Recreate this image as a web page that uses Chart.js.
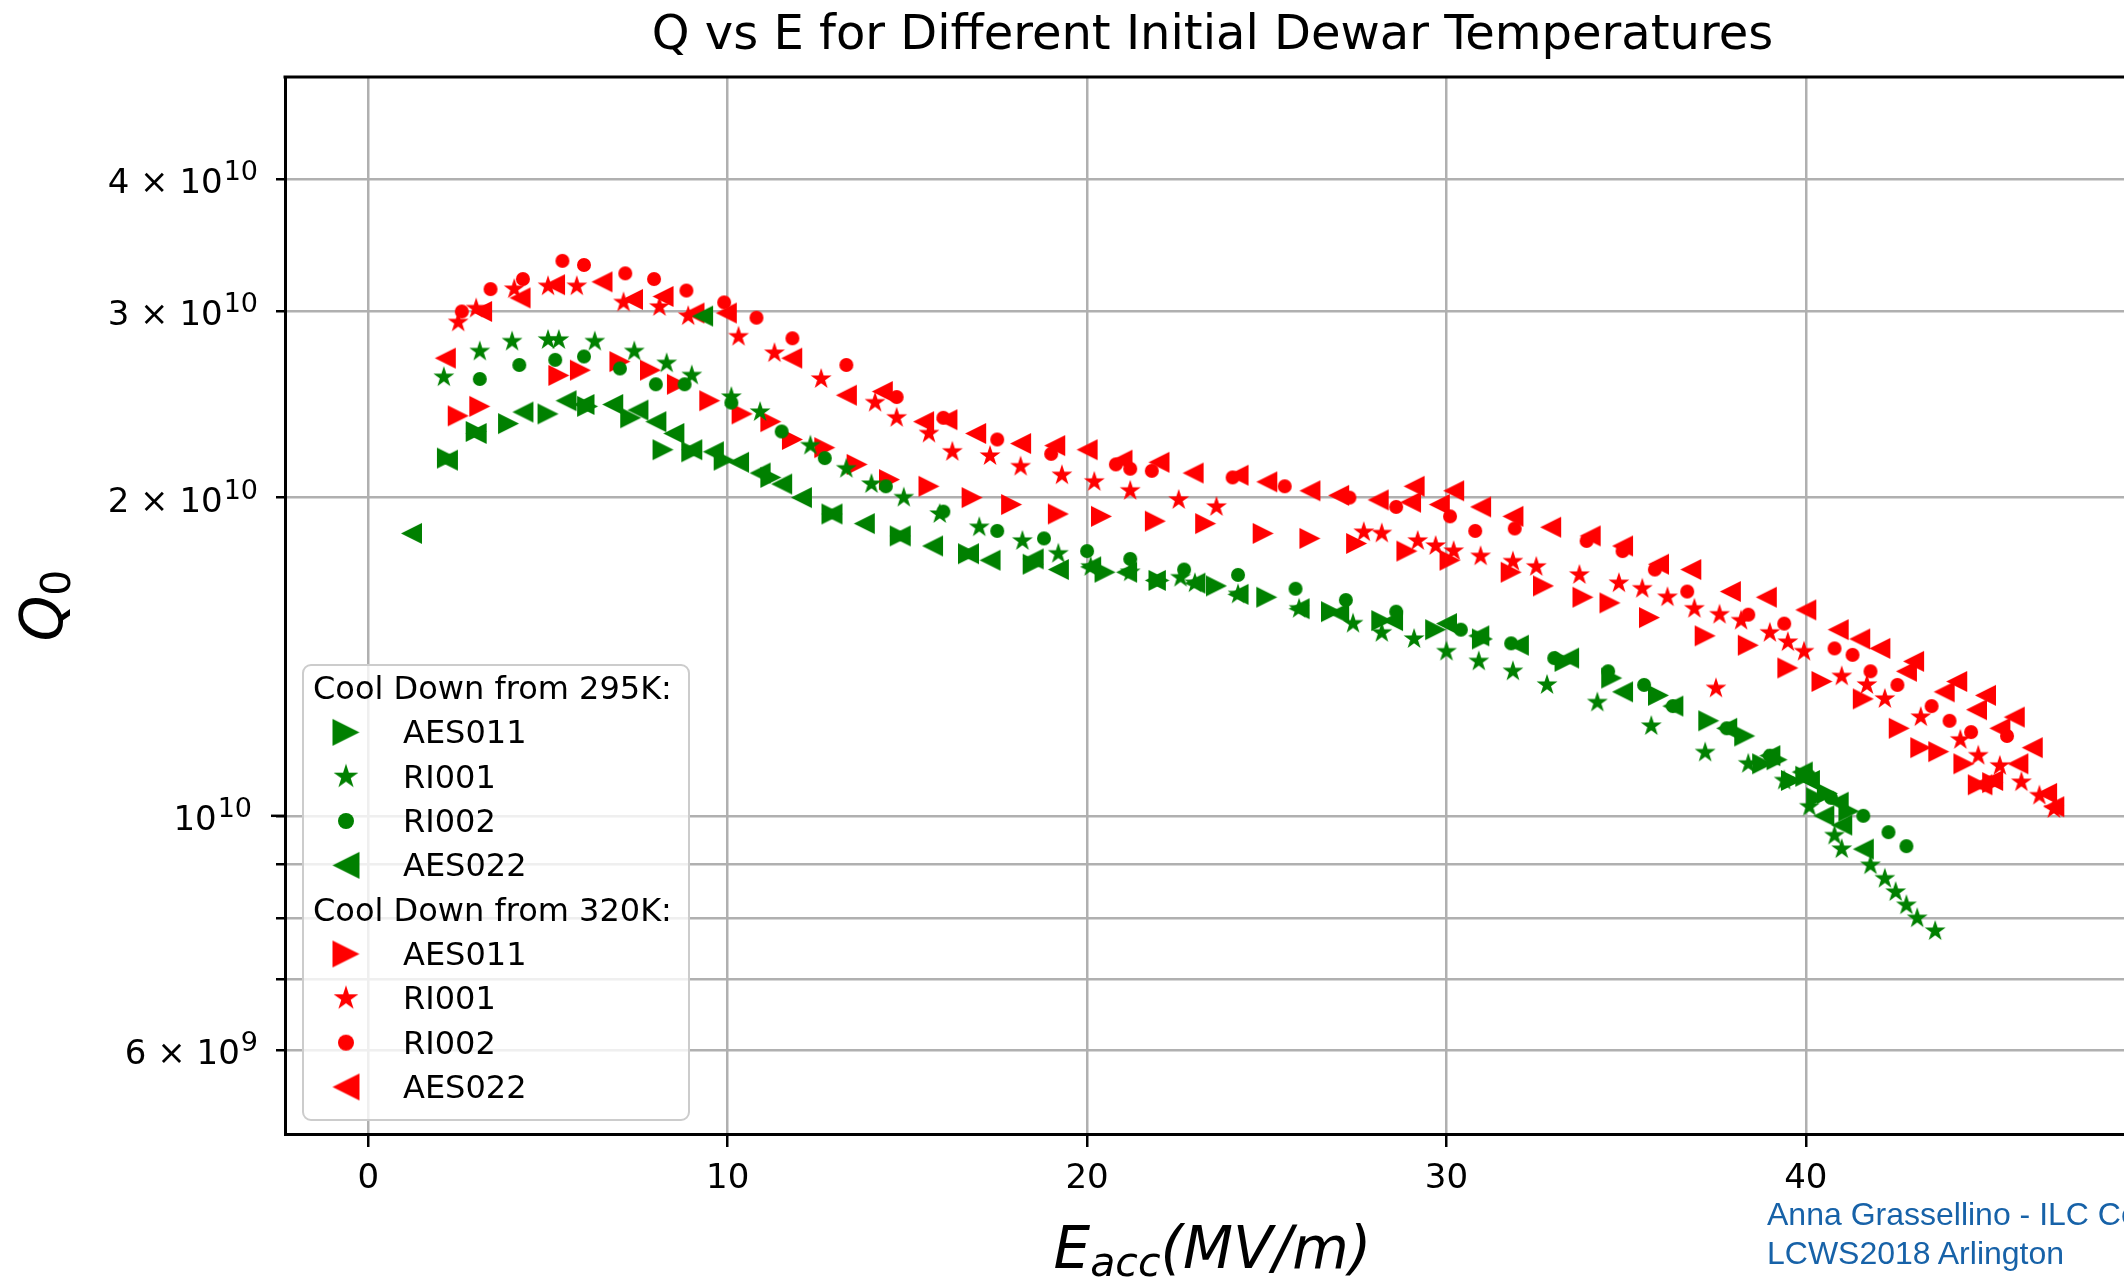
<!DOCTYPE html>
<html>
<head>
<meta charset="utf-8">
<title>Q vs E for Different Initial Dewar Temperatures</title>
<script src="https://cdn.jsdelivr.net/npm/chart.js@4.4.1/dist/chart.umd.min.js"></script>
<style>
  html, body { margin: 0; padding: 0; background: #fff; overflow: hidden; }
  #wrap { position: relative; width: 2124px; height: 1280px; overflow: hidden; }
  #myChart { position: absolute; left: 0; top: 0; }
  .credit { position: absolute; left: 1767px; font-family: 'Liberation Sans', Arial, sans-serif; font-size: 32px; line-height: 39px; color: #1762a8; white-space: nowrap; }
</style>
</head>
<body>
<div id="wrap">
  <canvas id="myChart" width="2160" height="1280"></canvas>
  <div class="credit" style="top:1195px">Anna Grassellino - ILC Co</div>
  <div class="credit" style="top:1234px">LCWS2018 Arlington</div>
</div>
<script>
// Data. E in MV/m, Q0 in units of 1e10.

// cool down from 295K (green)
const aes011WarmE = [2.2, 3.0, 3.9, 5.0, 6.1, 7.3, 8.2, 9.0, 9.9, 11.2, 12.9, 14.8, 16.7, 18.5, 20.5, 22.0, 23.6, 25.0, 26.8, 28.2, 29.7, 31.0, 33.3, 34.6, 35.9, 37.3, 38.3, 38.8, 39.2, 39.6, 40.0, 40.3, 40.6, 41.2]
const aes011WarmQ = [2.18, 2.31, 2.35, 2.40, 2.44, 2.38, 2.22, 2.21, 2.17, 2.09, 1.93, 1.84, 1.77, 1.73, 1.70, 1.67, 1.65, 1.61, 1.56, 1.53, 1.50, 1.47, 1.40, 1.35, 1.30, 1.23, 1.19, 1.12, 1.13, 1.08, 1.09, 1.04, 1.05, 1.01]

const ri001WarmE = [2.1, 3.1, 4.0, 5.0, 5.3, 6.3, 7.4, 8.3, 9.0, 10.1, 10.9, 12.3, 13.3, 14.0, 14.9, 15.9, 17.0, 18.2, 19.2, 20.1, 21.2, 22.6, 23.0, 24.2, 25.9, 27.4, 28.2, 29.1, 30.0, 30.9, 31.85, 32.8, 34.2, 35.7, 37.2, 38.4, 39.4, 40.1, 40.8, 41.0, 41.8, 42.2, 42.5, 42.8, 43.1, 43.6]
const ri001WarmQ = [2.60, 2.75, 2.81, 2.82, 2.82, 2.81, 2.75, 2.68, 2.61, 2.49, 2.41, 2.24, 2.13, 2.06, 2.00, 1.93, 1.875, 1.82, 1.77, 1.72, 1.70, 1.68, 1.66, 1.62, 1.57, 1.52, 1.49, 1.47, 1.43, 1.40, 1.37, 1.33, 1.28, 1.216, 1.148, 1.12, 1.08, 1.02, 0.958, 0.93, 0.898, 0.872, 0.847, 0.823, 0.80, 0.778]

const ri002WarmE = [3.1, 4.2, 5.2, 6.0, 7.0, 8.0, 8.8, 10.1, 11.5, 12.7, 14.4, 16.0, 17.5, 18.8, 20.0, 21.2, 22.7, 24.2, 25.8, 27.2, 28.6, 30.4, 31.8, 33.0, 34.5, 35.5, 36.3, 37.8, 39.0, 40.1, 40.7, 41.6, 42.3, 42.8]
const ri002WarmQ = [2.59, 2.67, 2.70, 2.72, 2.65, 2.56, 2.56, 2.46, 2.31, 2.18, 2.05, 1.94, 1.86, 1.83, 1.78, 1.75, 1.71, 1.69, 1.64, 1.60, 1.56, 1.50, 1.456, 1.41, 1.37, 1.33, 1.27, 1.21, 1.14, 1.09, 1.04, 1.00, 0.965, 0.936]

const aes022WarmE = [1.2, 2.2, 3.0, 4.3, 5.5, 6.0, 6.8, 7.5, 8.0, 8.5, 9.0, 9.6, 10.3, 10.9, 11.5, 12.05, 12.9, 13.8, 14.8, 15.7, 16.7, 17.3, 18.5, 19.2, 20.1, 21.1, 21.9, 23.0, 24.2, 25.9, 27.0, 28.5, 30.0, 30.9, 32.0, 33.4, 34.9, 36.3, 37.8, 39.0, 39.9, 40.1, 40.5, 40.9, 41.0, 41.6, 9.3]
const aes022WarmQ = [1.85, 2.17, 2.30, 2.41, 2.47, 2.45, 2.45, 2.42, 2.36, 2.30, 2.22, 2.21, 2.16, 2.11, 2.06, 2.00, 1.93, 1.89, 1.84, 1.80, 1.77, 1.745, 1.75, 1.71, 1.72, 1.70, 1.67, 1.66, 1.62, 1.57, 1.555, 1.53, 1.52, 1.48, 1.45, 1.41, 1.31, 1.27, 1.21, 1.14, 1.10, 1.08, 1.00, 1.03, 0.98, 0.93, 2.97]

// cool down from 320K (red)
const aes011HotE = [2.5, 3.1, 5.3, 5.9, 7.0, 7.85, 8.6, 9.5, 10.4, 11.2, 11.8, 12.7, 13.6, 14.5, 15.6, 16.8, 17.9, 19.2, 20.4, 21.9, 23.3, 24.9, 26.2, 27.5, 28.9, 30.1, 31.8, 32.7, 33.8, 34.55, 35.65, 37.2, 38.4, 39.5, 40.45, 41.6, 42.6, 43.2, 43.7, 44.4, 44.8, 45.2]
const aes011HotQ = [2.39, 2.44, 2.61, 2.64, 2.69, 2.64, 2.56, 2.47, 2.40, 2.36, 2.27, 2.23, 2.15, 2.08, 2.05, 2.00, 1.97, 1.93, 1.92, 1.90, 1.89, 1.85, 1.83, 1.81, 1.78, 1.745, 1.70, 1.65, 1.61, 1.59, 1.54, 1.48, 1.45, 1.38, 1.34, 1.29, 1.21, 1.16, 1.15, 1.12, 1.07, 1.075]

const ri001HotE = [2.5, 3.0, 4.06, 5.0, 5.8, 7.1, 8.1, 8.9, 10.3, 11.3, 12.6, 14.1, 14.7, 15.6, 16.25, 17.3, 18.15, 19.3, 20.2, 21.2, 22.55, 23.6, 27.7, 28.2, 29.2, 29.7, 30.2, 30.95, 31.85, 32.5, 33.7, 34.8, 35.45, 36.15, 36.9, 37.5, 37.6, 38.2, 39.0, 39.5, 39.95, 41.0, 41.7, 42.2, 43.2, 44.3, 44.8, 45.4, 46.0, 46.5, 46.9]
const ri001HotQ = [2.93, 3.02, 3.15, 3.17, 3.17, 3.06, 3.03, 2.97, 2.84, 2.74, 2.59, 2.46, 2.38, 2.30, 2.21, 2.19, 2.14, 2.10, 2.07, 2.03, 1.99, 1.96, 1.855, 1.85, 1.82, 1.80, 1.78, 1.76, 1.74, 1.72, 1.69, 1.66, 1.64, 1.61, 1.57, 1.32, 1.55, 1.53, 1.49, 1.46, 1.43, 1.355, 1.33, 1.29, 1.24, 1.18, 1.14, 1.115, 1.076, 1.045, 1.015]

const ri002HotE = [2.6, 3.4, 4.3, 5.4, 6.0, 7.15, 7.95, 8.85, 9.9, 10.8, 11.8, 13.3, 14.7, 16.0, 17.5, 19.0, 20.8, 21.2, 21.8, 24.05, 25.5, 27.3, 28.6, 30.1, 30.8, 31.9, 33.9, 34.9, 35.8, 36.7, 38.4, 39.4, 40.8, 41.3, 41.8, 42.55, 43.5, 44.0, 44.6, 45.6]
const ri002HotQ = [3.00, 3.15, 3.22, 3.35, 3.32, 3.26, 3.22, 3.14, 3.06, 2.96, 2.83, 2.67, 2.49, 2.38, 2.27, 2.20, 2.15, 2.13, 2.12, 2.09, 2.05, 2.00, 1.96, 1.92, 1.86, 1.87, 1.82, 1.78, 1.71, 1.63, 1.55, 1.52, 1.44, 1.42, 1.37, 1.33, 1.27, 1.23, 1.20, 1.19]

const aes022HotE = [2.14, 3.15, 4.22, 5.18, 6.5, 7.35, 8.2, 9.06, 9.96, 11.78, 13.3, 14.3, 15.45, 16.1, 16.9, 18.15, 19.1, 20.0, 20.97, 22.0, 22.95, 24.2, 25.0, 26.2, 27.0, 28.1, 29.0, 29.1, 29.8, 30.2, 30.95, 31.85, 32.9, 34.0, 34.9, 35.9, 36.8, 37.9, 38.9, 40.0, 40.9, 41.5, 42.06, 42.8, 43.0, 43.85, 44.2, 44.75, 45.0, 45.4, 45.8, 45.9, 46.3, 46.7, 46.9, 44.9, 45.2]
const aes022HotQ = [2.71, 3.00, 3.09, 3.18, 3.20, 3.08, 3.10, 2.99, 2.99, 2.71, 2.50, 2.52, 2.36, 2.37, 2.30, 2.25, 2.24, 2.22, 2.17, 2.16, 2.11, 2.10, 2.07, 2.03, 2.01, 1.99, 1.98, 2.05, 1.97, 2.03, 1.96, 1.92, 1.875, 1.84, 1.80, 1.73, 1.71, 1.63, 1.61, 1.566, 1.50, 1.47, 1.44, 1.37, 1.40, 1.31, 1.34, 1.26, 1.30, 1.21, 1.24, 1.12, 1.16, 1.05, 1.02, 1.07, 1.08]

const xTicks = [0, 10, 20, 30, 40]
const yTicks = [6e9, 7e9, 8e9, 9e9, 1e10, 2e10, 3e10, 4e10]
// tick label = mantissa text + power of ten (mathtext style, drawn with a raised exponent)
const yTickMantissa = ['6 × 10', '', '', '', '10', '2 × 10', '3 × 10', '4 × 10']
const yTickPower = ['9', '', '', '', '10', '10', '10', '10']

const GREEN = '#008000'
const RED = '#ff0000'

// matplotlib-like filled markers, made once as little canvases
function markerPath (c, shape, size) {
  const h = size / 2
  c.beginPath()
  if (shape === 'right') {
    c.moveTo(h, 0); c.lineTo(-h, -h); c.lineTo(-h, h)
  } else if (shape === 'left') {
    c.moveTo(-h, 0); c.lineTo(h, -h); c.lineTo(h, h)
  } else if (shape === 'circle') {
    c.arc(0, 0, h, 0, Math.PI * 2)
  } else if (shape === 'star') {
    for (let i = 0; i < 10; i++) {
      const r = i % 2 === 0 ? h : h * 0.382
      const a = -Math.PI / 2 + i * Math.PI / 5
      c.lineTo(r * Math.cos(a), r * Math.sin(a))
    }
  }
  c.closePath()
}

function makeMarker (shape, size, color) {
  const cv = document.createElement('canvas')
  cv.width = cv.height = Math.ceil(size) + 4
  const c = cv.getContext('2d')
  c.translate(cv.width / 2, cv.height / 2)
  c.fillStyle = color
  markerPath(c, shape, size)
  c.fill()
  return cv
}

const plotSize = { right: 21, left: 21, star: 22, circle: 14 }
const legendSize = { right: 27, left: 27, star: 26, circle: 16 }

function series (label, E, Q, shape, color) {
  return {
    label: label,
    data: E.map((e, i) => ({ x: e, y: Q[i] * 1e10 })),
    pointStyle: makeMarker(shape, plotSize[shape], color),
    pointRadius: 8,
    shape: shape,
    markerColor: color
  }
}

// green first so it is painted on top of the red points
const datasets = [
  series('AES011', aes011WarmE, aes011WarmQ, 'right', GREEN),
  series('RI001', ri001WarmE, ri001WarmQ, 'star', GREEN),
  series('RI002', ri002WarmE, ri002WarmQ, 'circle', GREEN),
  series('AES022', aes022WarmE, aes022WarmQ, 'left', GREEN),
  series('AES011', aes011HotE, aes011HotQ, 'right', RED),
  series('RI001', ri001HotE, ri001HotQ, 'star', RED),
  series('RI002', ri002HotE, ri002HotQ, 'circle', RED),
  series('AES022', aes022HotE, aes022HotQ, 'left', RED)
]
const legendGroups = [
  { title: 'Cool Down from 295K:', items: [0, 1, 2, 3] },
  { title: 'Cool Down from 320K:', items: [4, 5, 6, 7] }
]

// top spine (left/bottom come from the axis borders)
const topSpine = {
  id: 'topSpine',
  afterDatasetsDraw (chart) {
    const c = chart.ctx
    const a = chart.chartArea
    c.save()
    c.strokeStyle = '#000'
    c.lineWidth = 3
    c.beginPath()
    c.moveTo(a.left - 1.5, a.top)
    c.lineTo(a.right + 1.5, a.top)
    c.stroke()
    c.restore()
  }
}

// y tick labels with superscript powers; 1e10 is the major tick (longer mark)
const logLabels = {
  id: 'logLabels',
  afterDraw (chart) {
    const c = chart.ctx
    const y = chart.scales.y
    const left = chart.chartArea.left
    c.save()
    c.fillStyle = '#000'
    c.strokeStyle = '#000'
    c.textBaseline = 'alphabetic'
    c.textAlign = 'left'
    yTicks.forEach((v, i) => {
      if (!yTickMantissa[i]) return
      const py = y.getPixelForValue(v)
      const major = v === 1e10
      if (major) {
        c.lineWidth = 2.5
        c.beginPath()
        c.moveTo(left - 14, py)
        c.lineTo(left, py)
        c.stroke()
      }
      c.font = '34px "DejaVu Sans"'
      const wm = c.measureText(yTickMantissa[i]).width
      c.font = '27px "DejaVu Sans"'
      const wp = c.measureText(yTickPower[i]).width
      const right = left - (major ? 33 : 27)
      const x0 = right - wp - wm - 1
      c.font = '34px "DejaVu Sans"'
      c.fillText(yTickMantissa[i], x0, py + 14)
      c.font = '27px "DejaVu Sans"'
      c.fillText(yTickPower[i], x0 + wm + 1, py + 1)
    })
    c.restore()
  }
}

// legend with section headings
const sectionLegend = {
  id: 'sectionLegend',
  afterDraw (chart) {
    const c = chart.ctx
    const box = { x: 303, y: 665, w: 386, h: 455 }
    c.save()
    c.beginPath()
    c.roundRect(box.x, box.y, box.w, box.h, 8)
    c.fillStyle = 'rgba(255,255,255,0.8)'
    c.fill()
    c.strokeStyle = '#cccccc'
    c.lineWidth = 2
    c.stroke()

    c.font = '32px "DejaVu Sans"'
    c.textBaseline = 'alphabetic'
    let row = 0
    const base = (r) => 699 + r * 44.33
    legendGroups.forEach(g => {
      c.fillStyle = '#000'
      c.fillText(g.title, 313, base(row))
      row++
      g.items.forEach(k => {
        const ds = chart.data.datasets[k]
        const m = makeMarker(ds.shape, legendSize[ds.shape], ds.markerColor)
        c.drawImage(m, 346 - m.width / 2, base(row) - 11 - m.height / 2)
        c.fillStyle = '#000'
        c.fillText(ds.label, 403, base(row))
        row++
      })
    })
    c.restore()
  }
}

// axis titles with subscripts, mathtext style
const mathTitles = {
  id: 'mathTitles',
  afterDraw (chart) {
    const c = chart.ctx
    const a = chart.chartArea
    const big = 'italic 58px "DejaVu Sans"'
    const small = 'italic 41px "DejaVu Sans"'
    const smallUp = '41px "DejaVu Sans"'
    c.save()
    c.fillStyle = '#000'
    c.textBaseline = 'alphabetic'
    c.textAlign = 'left'

    // E_acc(MV/m)
    c.font = big
    const wE = c.measureText('E').width
    const wP = c.measureText('(MV/m)').width
    c.font = small
    const wS = c.measureText('acc').width
    let x = (a.left + a.right) / 2 - (wE + wS + wP) / 2
    const yb = 1268
    c.font = big
    c.fillText('E', x, yb)
    x += wE
    c.font = small
    c.fillText('acc', x, yb + 8)
    x += wS
    c.font = big
    c.fillText('(MV/m)', x, yb)

    // Q_0, rotated
    c.translate(62, (a.top + a.bottom) / 2)
    c.rotate(-Math.PI / 2)
    c.font = big
    const wQ = c.measureText('Q').width
    c.font = smallUp
    const w0 = c.measureText('0').width
    const s = -(wQ + w0) / 2
    c.font = big
    c.fillText('Q', s, 0)
    c.font = smallUp
    c.fillText('0', s + wQ, 8)
    c.restore()
  }
}

const ctx = document.getElementById('myChart')
// eslint-disable-next-line no-unused-vars
const myChart = new Chart(ctx, {
  type: 'scatter',
  data: { datasets: datasets },
  options: {
    responsive: false,
    animation: false,
    devicePixelRatio: 1,
    layout: { padding: { left: 0, right: 20, top: 0, bottom: 0 } },
    plugins: {
      legend: { display: false },
      tooltip: { enabled: false },
      title: {
        display: true,
        text: 'Q vs E for Different Initial Dewar Temperatures',
        fullSize: false,
        color: '#000',
        font: { family: 'DejaVu Sans', size: 48, weight: 'normal', lineHeight: 1.2 },
        padding: { top: 8, bottom: 11.4 }
      }
    },
    scales: {
      x: {
        type: 'linear',
        min: -2.32,
        max: 49.3,
        afterBuildTicks: (scale) => { scale.ticks = xTicks.map(v => ({ value: v })) },
        afterFit: (scale) => { scale.height = 146 },
        grid: { color: '#b0b0b0', lineWidth: 2.5, tickColor: '#000', tickWidth: 2.5, tickLength: 13 },
        border: { display: true, color: '#000', width: 3 },
        ticks: {
          color: '#000',
          font: { family: 'DejaVu Sans', size: 34 },
          padding: 12,
          autoSkip: false,
          maxRotation: 0
        }
      },
      y: {
        type: 'logarithmic',
        min: 5e9,
        max: 5e10,
        afterBuildTicks: (scale) => { scale.ticks = yTicks.map(v => ({ value: v })) },
        afterFit: (scale) => { scale.width = 285 },
        grid: { color: '#b0b0b0', lineWidth: 2.5, tickColor: '#000', tickWidth: 2.5, tickLength: 9 },
        border: { display: true, color: '#000', width: 3 },
        ticks: { display: false }
      }
    }
  },
  plugins: [topSpine, logLabels, sectionLegend, mathTitles]
})
</script>
</body>
</html>
